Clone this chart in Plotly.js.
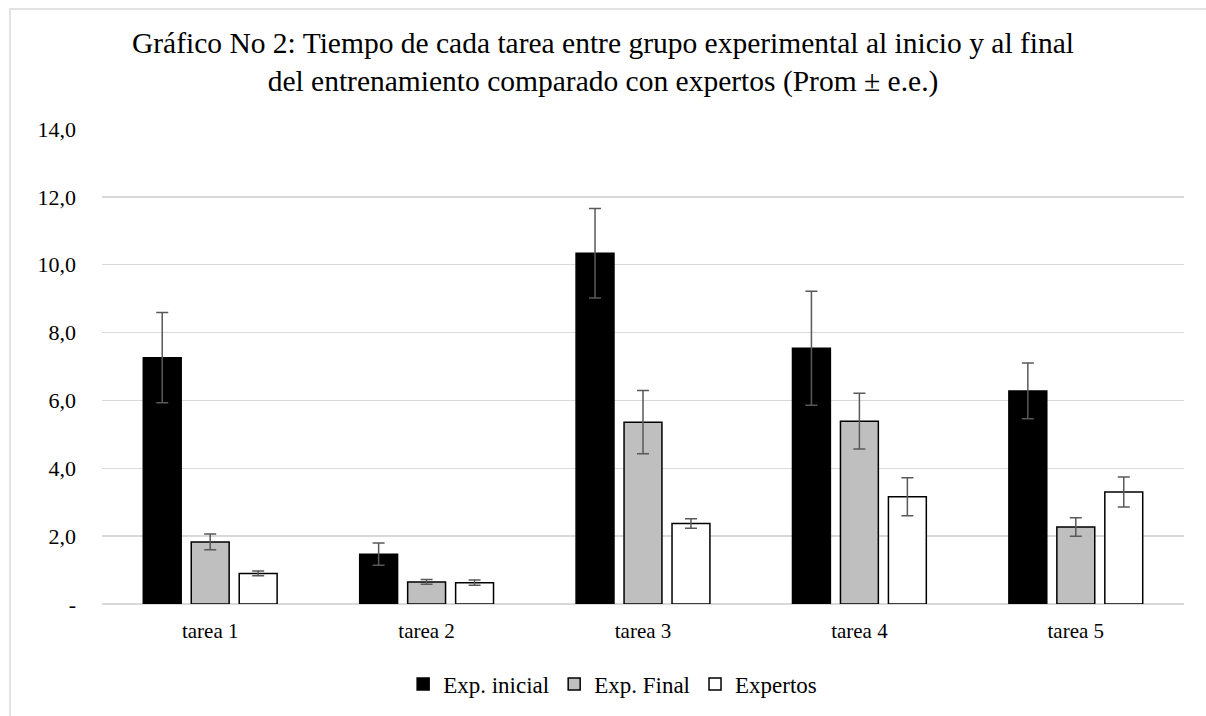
<!DOCTYPE html>
<html>
<head>
<meta charset="utf-8">
<script src="https://cdn.plot.ly/plotly-3.0.1.min.js"></script>
<style>html,body{margin:0;padding:0;background:#fff;}#chart{width:1206px;height:716px;}</style>
</head>
<body>
<div id="chart"></div>
<script>
const categories = ['tarea 1', 'tarea 2', 'tarea 3', 'tarea 4', 'tarea 5'];
const expInicial = [7.26, 1.47, 10.34, 7.54, 6.28];
const expInicialErr = [1.33, 0.33, 1.32, 1.68, 0.82];
const expFinal = [1.83, 0.65, 5.36, 5.39, 2.27];
const expFinalErr = [0.23, 0.07, 0.93, 0.82, 0.27];
const expertos = [0.90, 0.63, 2.37, 3.16, 3.30];
const expertosErr = [0.07, 0.08, 0.14, 0.56, 0.44];
const seriesNames = ['Exp. inicial', 'Exp. Final', 'Expertos'];
const yTickVals = [0, 2, 4, 6, 8, 10, 12, 14];
const yTickText = ['-', '2,0', '4,0', '6,0', '8,0', '10,0', '12,0', '14,0'];

const FONT = 'Liberation Serif, Times New Roman, serif';
const errStyle = {type: 'data', visible: true, color: '#595959', thickness: 1.5, width: 6};

function mk(name, y, err, fill) {
  return {
    type: 'bar', name: name, x: categories, y: y,
    error_y: Object.assign({array: err}, errStyle),
    marker: {color: fill, line: {color: '#000000', width: 1.5}},
    hoverinfo: 'y'
  };
}

const data = [
  mk(seriesNames[0], expInicial, expInicialErr, '#000000'),
  mk(seriesNames[1], expFinal, expFinalErr, '#bfbfbf'),
  mk(seriesNames[2], expertos, expertosErr, '#ffffff')
];

const layout = {
  width: 1206, height: 716,
  margin: {l: 102, r: 22, t: 129, b: 112},
  paper_bgcolor: '#ffffff', plot_bgcolor: '#ffffff',
  font: {family: FONT, color: '#000000', size: 21},
  title: {
    text: 'Gráfico No 2: Tiempo de cada tarea entre grupo experimental al inicio y al final<br>del entrenamiento comparado con expertos (Prom ± e.e.)',
    font: {family: FONT, size: 29.5, color: '#000000'},
    x: 0.5, xref: 'container', xanchor: 'center',
    y: 1 - 53/716, yref: 'container', yanchor: 'middle'
  },
  barmode: 'group', bargap: 0.335, bargroupgap: 0.21,
  xaxis: {
    type: 'category', showgrid: false, zeroline: false,
    showline: false, ticks: '', ticklabelstandoff: 12,
    tickfont: {family: FONT, size: 21, color: '#000000'}
  },
  yaxis: {
    range: [0, 14], tickvals: yTickVals, ticktext: yTickText,
    showgrid: true, gridcolor: '#d9d9d9', gridwidth: 1.5,
    zeroline: true, zerolinecolor: '#d9d9d9', zerolinewidth: 1.5,
    showline: false, ticks: '', ticklabelstandoff: 25,
    tickfont: {family: FONT, size: 22, color: '#000000'}
  },
  showlegend: true,
  legend: {
    orientation: 'h', xref: 'container', yref: 'container',
    x: 0.508, xanchor: 'center', y: 1 - 684/716, yanchor: 'middle',
    font: {family: FONT, size: 23, color: '#000000'},
    itemwidth: 30,
    itemclick: false, itemdoubleclick: false
  },
  shapes: [{
    type: 'rect', xref: 'paper', yref: 'paper',
    x0: (10 - 102) / 1082, x1: 1.1, y0: -0.4, y1: (604 - 9) / 475,
    line: {color: '#d9d9d9', width: 1.5}, fillcolor: 'rgba(0,0,0,0)', layer: 'below'
  }]
};

Plotly.newPlot('chart', data, layout, {displayModeBar: false, staticPlot: true});
</script>
</body>
</html>
